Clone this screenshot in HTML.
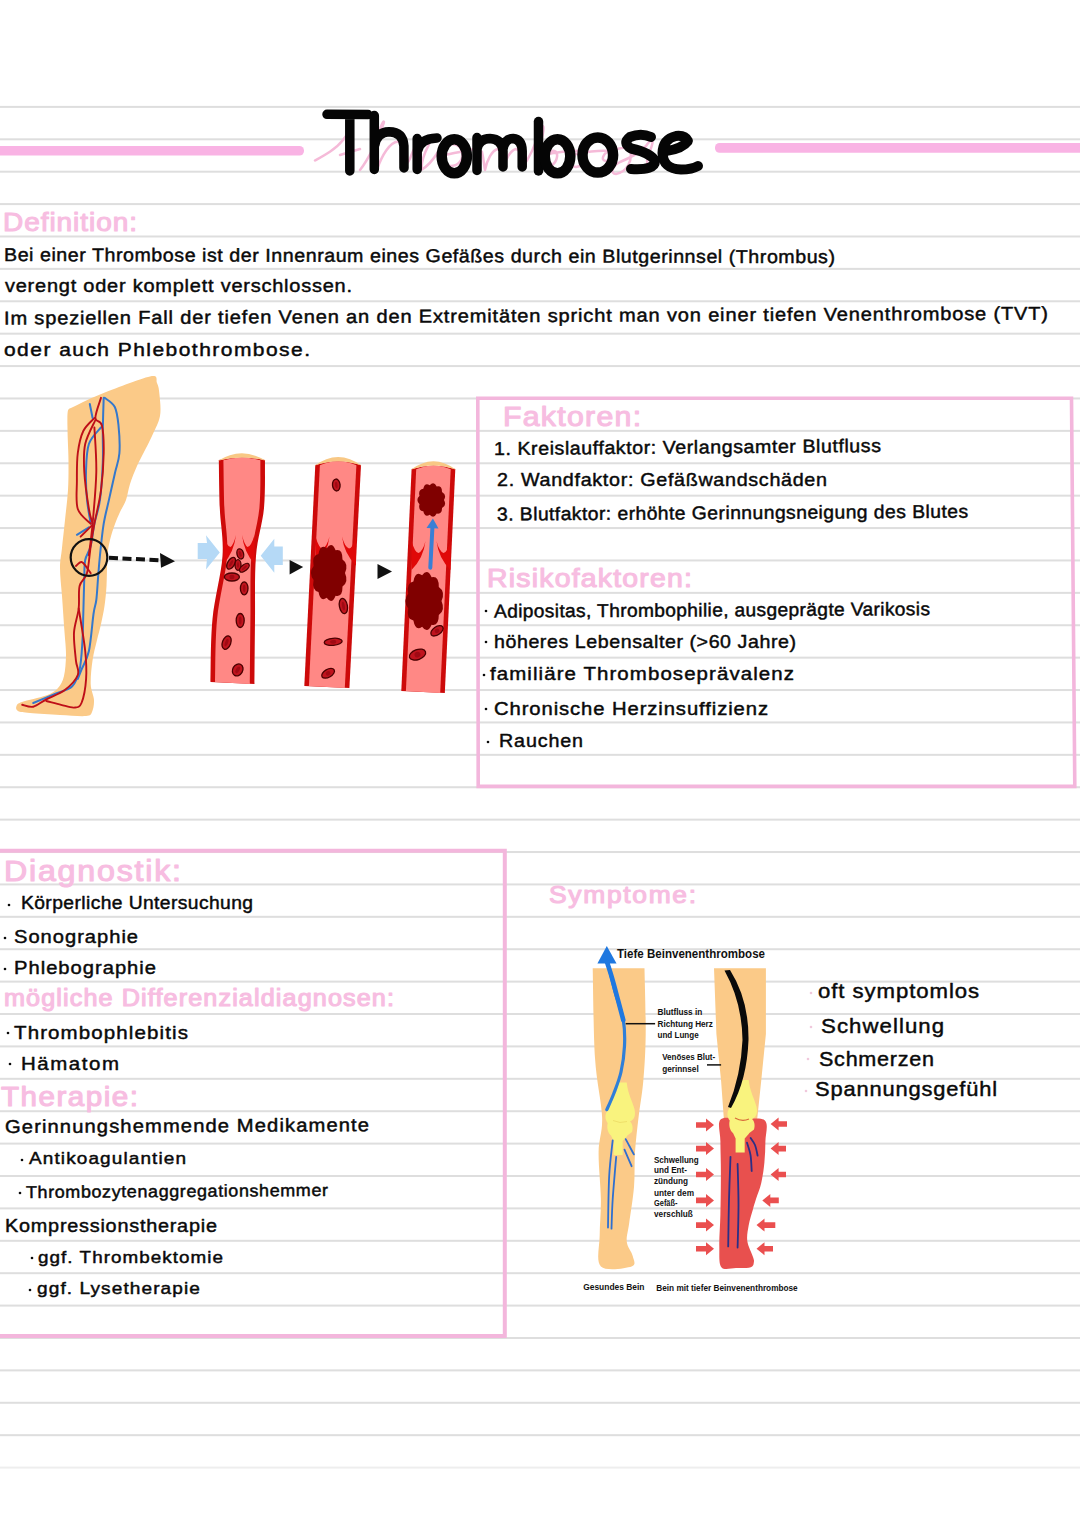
<!DOCTYPE html><html><head><meta charset="utf-8"><title>Thrombose</title>
<style>html,body{margin:0;padding:0;background:#fff;}body{width:1080px;height:1527px;overflow:hidden;}svg{display:block;}text{font-family:"Liberation Sans",sans-serif;}</style></head><body>
<svg width="1080" height="1527" viewBox="0 0 1080 1527">
<rect x="0" y="0" width="1080" height="1527" fill="#ffffff"/>
<rect x="0" y="105.90" width="1080" height="2" fill="#dedede"/>
<rect x="0" y="138.30" width="1080" height="2" fill="#dedede"/>
<rect x="0" y="170.69" width="1080" height="2" fill="#dedede"/>
<rect x="0" y="203.09" width="1080" height="2" fill="#dedede"/>
<rect x="0" y="235.49" width="1080" height="2" fill="#dedede"/>
<rect x="0" y="267.88" width="1080" height="2" fill="#dedede"/>
<rect x="0" y="300.28" width="1080" height="2" fill="#dedede"/>
<rect x="0" y="332.68" width="1080" height="2" fill="#dedede"/>
<rect x="0" y="365.08" width="1080" height="2" fill="#dedede"/>
<rect x="0" y="397.47" width="1080" height="2" fill="#dedede"/>
<rect x="0" y="429.87" width="1080" height="2" fill="#dedede"/>
<rect x="0" y="462.27" width="1080" height="2" fill="#dedede"/>
<rect x="0" y="494.66" width="1080" height="2" fill="#dedede"/>
<rect x="0" y="527.06" width="1080" height="2" fill="#dedede"/>
<rect x="0" y="559.46" width="1080" height="2" fill="#dedede"/>
<rect x="0" y="591.86" width="1080" height="2" fill="#dedede"/>
<rect x="0" y="624.25" width="1080" height="2" fill="#dedede"/>
<rect x="0" y="656.65" width="1080" height="2" fill="#dedede"/>
<rect x="0" y="689.05" width="1080" height="2" fill="#dedede"/>
<rect x="0" y="721.44" width="1080" height="2" fill="#dedede"/>
<rect x="0" y="753.84" width="1080" height="2" fill="#dedede"/>
<rect x="0" y="786.24" width="1080" height="2" fill="#dedede"/>
<rect x="0" y="818.63" width="1080" height="2" fill="#dedede"/>
<rect x="0" y="851.03" width="1080" height="2" fill="#dedede"/>
<rect x="0" y="883.43" width="1080" height="2" fill="#dedede"/>
<rect x="0" y="915.82" width="1080" height="2" fill="#dedede"/>
<rect x="0" y="948.22" width="1080" height="2" fill="#dedede"/>
<rect x="0" y="980.62" width="1080" height="2" fill="#dedede"/>
<rect x="0" y="1013.02" width="1080" height="2" fill="#dedede"/>
<rect x="0" y="1045.41" width="1080" height="2" fill="#dedede"/>
<rect x="0" y="1077.81" width="1080" height="2" fill="#dedede"/>
<rect x="0" y="1110.21" width="1080" height="2" fill="#dedede"/>
<rect x="0" y="1142.60" width="1080" height="2" fill="#dedede"/>
<rect x="0" y="1175.00" width="1080" height="2" fill="#dedede"/>
<rect x="0" y="1207.40" width="1080" height="2" fill="#dedede"/>
<rect x="0" y="1239.80" width="1080" height="2" fill="#dedede"/>
<rect x="0" y="1272.19" width="1080" height="2" fill="#dedede"/>
<rect x="0" y="1304.59" width="1080" height="2" fill="#dedede"/>
<rect x="0" y="1336.99" width="1080" height="2" fill="#dedede"/>
<rect x="0" y="1369.38" width="1080" height="2" fill="#dedede"/>
<rect x="0" y="1401.78" width="1080" height="2" fill="#dedede"/>
<rect x="0" y="1434.18" width="1080" height="2" fill="#dedede"/>
<rect x="0" y="1466.57" width="1080" height="2" fill="#eeeeee"/>
<rect x="-5" y="146" width="309" height="9.5" rx="4.5" fill="#f9b3e4"/>
<rect x="715" y="143" width="380" height="9.8" rx="4.5" fill="#f9b3e4"/>
<path d="M315,160.5 C325,155 336,149 343,140 C348,133 352,128 351,137 C350,148 347,160 349,168 M340,155 L360,149 M360,170 C368,160 378,140 383,125 C386,118 381,122 379,135 C377,150 376,162 377,169.5 C382,155 390,142 398,141.5 C403,142 402,158 402.4,168 C406,165 410,160 411,156 C414,148 417,143 419,143 C424,142 428,144 429,144.4 C425,152 421,162 421.7,169.6 C428,166 433,160 438,152 C441,146 448,143 455,144.4 C464,147 465,160 456,165 C447,168 440,163 441,156 C448,154 460,152 470,150 C476,148 480,150 482,152 C484,160 484,166 485,170 C487,160 492,150 498,149 C504,150 503,162 503.5,168 C506,158 511,150 516,149 C522,150 521,162 522,168 C528,160 535,146 540,130 C545,121 544,130 541,142 C539,155 538,165 541,168 C548,170 556,164 557,157 C558,150 552,149 548,154 C560,152 570,150 578,151 C586,154 585,166 576,167 C568,166 569,156 576,154 C586,152 600,150 610,151 C615,152 612,160 606,161 C600,161 603,152 612,150 C622,148 628,146 630,150 C633,160 627,172 616,174 C610,174 612,166 620,162 C630,158 640,152 646,146 C650,140 654,138 652,145 C650,153 645,160 648,165 C652,168 658,165 662,158" fill="none" stroke="#f5bad8" stroke-width="2.5" stroke-linecap="round" stroke-linejoin="round"/>
<g fill="none" stroke="#050505" stroke-width="9.5" stroke-linecap="round" stroke-linejoin="round"><path d="M327,114.3 L368,114.6 M349.8,114.5 L349.8,171"/><path d="M374.3,115.5 L374.3,169.5 M374.8,145 Q377,132 389,131.8 Q403,132 403.9,146 L404,168"/><path d="M417.2,138.5 L417.2,169.5 M417.5,151 Q420,138.5 437,138"/><ellipse cx="454.3" cy="156.3" rx="12.6" ry="17" stroke-width="10.5"/><path d="M477,137.5 L477,170.5 M477,149 Q479,138.5 490,138.5 Q502,139 503,151 L503,167 M503,149 Q505,138.5 513,138.5 Q522,139.5 522.2,151 L522.2,167"/><path d="M538.5,121.5 L538.5,171"/><ellipse cx="557.5" cy="156.3" rx="12.8" ry="17" stroke-width="10.5"/><ellipse cx="597.8" cy="155" rx="15.3" ry="17.6" stroke-width="10.5"/><path d="M651,137 Q641,132.5 630,137 Q622,143 631,148.5 Q651,153 655,161 Q655,170.5 631,169" stroke-width="10"/><path d="M666,151 Q682,149 688,141 Q685,135 676,136 Q663,139 662.5,153 Q663,169 681,169.5 Q692,169.5 698,166" stroke-width="10"/></g>
<text x="3.0" y="231.0" font-size="26" font-weight="normal" fill="#f7bde1" stroke="#f7bde1" stroke-width="1.1" stroke-linejoin="round" textLength="124.5" lengthAdjust="spacing" transform="matrix(1.0766,0,0,1,-0.23,0)">Definition:</text>
<text x="4.0" y="261.0" font-size="18.5" font-weight="normal" fill="#0a0a0a" stroke="#0a0a0a" stroke-width="0.45" stroke-linejoin="round" textLength="784.2" lengthAdjust="spacing" transform="rotate(0.15 4 261) matrix(1.0597,0,0,1,-0.24,0)">Bei einer Thrombose ist der Innenraum eines Gefäßes durch ein Blutgerinnsel (Thrombus)</text>
<text x="5.0" y="292.0" font-size="18.5" font-weight="normal" fill="#0a0a0a" stroke="#0a0a0a" stroke-width="0.45" stroke-linejoin="round" textLength="321.1" lengthAdjust="spacing" transform="matrix(1.0806,0,0,1,-0.40,0)">verengt oder komplett verschlossen.</text>
<text x="4.0" y="324.5" font-size="18.5" font-weight="normal" fill="#0a0a0a" stroke="#0a0a0a" stroke-width="0.45" stroke-linejoin="round" textLength="960.3" lengthAdjust="spacing" transform="rotate(-0.27 4 324.5) matrix(1.0872,0,0,1,-0.35,0)">Im speziellen Fall der tiefen Venen an den Extremitäten spricht man von einer tiefen Venenthrombose (TVT)</text>
<text x="4.0" y="356.5" font-size="18.5" font-weight="normal" fill="#0a0a0a" stroke="#0a0a0a" stroke-width="0.45" stroke-linejoin="round" textLength="269.6" lengthAdjust="spacing" transform="matrix(1.1350,0,0,1,-0.54,0)">oder auch Phlebothrombose.</text>
<path d="M67.5,414.0 C67.7,411.6 67.8,410.6 68.5,409.5 C69.2,408.4 66.8,410.0 72.0,407.5 C77.2,405.0 87.0,399.7 100.0,394.5 C113.0,389.3 140.5,378.4 150.0,376.5 C159.5,374.6 155.4,379.9 157.0,383.0 C158.6,386.1 159.0,389.5 159.5,395.0 C160.0,400.5 161.2,409.2 160.0,416.0 C158.8,422.8 154.7,430.0 152.0,436.0 C149.3,442.0 146.5,447.0 144.0,452.0 C141.5,457.0 139.3,460.7 137.0,466.0 C134.7,471.3 131.8,478.3 130.0,484.0 C128.2,489.7 127.7,495.3 126.0,500.0 C124.3,504.7 121.8,508.0 120.0,512.0 C118.2,516.0 116.7,519.3 115.0,524.0 C113.3,528.7 111.2,534.7 110.0,540.0 C108.8,545.3 108.1,548.3 107.5,556.0 C106.9,563.7 107.0,577.7 106.5,586.0 C106.0,594.3 105.4,599.7 104.5,606.0 C103.6,612.3 102.2,618.3 101.0,624.0 C99.8,629.7 98.4,634.0 97.0,640.0 C95.6,646.0 93.6,652.7 92.6,660.0 C91.5,667.3 90.5,677.3 90.7,684.0 C90.9,690.7 93.8,695.3 94.0,700.0 C94.2,704.7 93.3,709.3 92.0,712.0 C90.7,714.7 91.3,715.5 86.0,716.0 C80.7,716.5 69.3,715.5 60.0,715.0 C50.7,714.5 37.0,713.7 30.0,713.0 C23.0,712.3 20.2,712.2 18.0,711.0 C15.8,709.8 15.8,707.5 16.5,706.0 C17.2,704.5 17.1,703.7 22.0,702.0 C26.9,700.3 40.0,697.9 46.0,695.6 C52.0,693.3 55.0,691.3 58.0,688.0 C61.0,684.7 62.7,681.5 64.0,676.0 C65.3,670.5 65.9,662.3 66.0,655.0 C66.1,647.7 65.2,641.8 64.5,632.0 C63.8,622.2 62.8,606.7 62.0,596.0 C61.2,585.3 60.0,576.0 60.0,568.0 C60.0,560.0 61.2,556.0 62.0,548.0 C62.8,540.0 64.0,529.7 65.0,520.0 C66.0,510.3 67.4,499.7 68.0,490.0 C68.6,480.3 68.5,470.3 68.5,462.0 C68.5,453.7 68.0,446.3 67.8,440.0 C67.6,433.7 67.5,428.3 67.4,424.0 C67.4,419.7 67.3,416.4 67.5,414.0 Z" fill="#fbca88"/>
<path d="M104.6,397.8 C106.3,399.3 112.5,402.4 114.8,407.0 C117.1,411.6 117.7,417.8 118.5,425.5 C119.3,433.2 120.0,445.3 119.4,453.3 C118.8,461.3 116.5,466.0 114.8,473.7 C113.1,481.4 110.8,491.3 109.0,499.6 C107.2,507.9 105.2,514.5 103.7,523.7 C102.2,532.9 100.9,546.1 100.0,555.0 C99.1,563.9 98.7,569.5 98.1,577.0 C97.5,584.5 97.1,593.8 96.3,600.0 C95.5,606.2 94.7,605.5 93.5,614.0 C92.3,622.5 90.9,641.7 88.9,651.0 C86.9,660.3 83.3,665.0 81.5,669.6 C79.7,674.2 78.4,677.4 77.8,678.9" fill="none" stroke="#3478cc" stroke-width="2.0" stroke-linecap="round" stroke-linejoin="round"/>
<path d="M103.7,397.8 C103.5,403.2 103.0,419.2 102.8,430.0 C102.6,440.8 103.3,451.0 102.8,462.6 C102.3,474.2 101.4,489.4 100.0,499.6 C98.6,509.8 96.0,516.0 94.4,523.7 C92.9,531.4 92.2,540.0 90.7,546.0 C89.2,552.0 86.3,554.8 85.2,560.0 C84.1,565.2 84.6,568.0 84.3,577.0 C84.0,586.0 83.6,603.2 83.3,614.0 C83.0,624.8 83.0,632.6 82.4,641.9 C81.8,651.2 81.3,662.2 79.6,669.6 C77.9,677.0 76.2,682.3 72.2,686.3 C68.2,690.3 62.1,690.9 55.6,693.7 C49.1,696.5 37.0,701.5 33.3,703.0" fill="none" stroke="#3478cc" stroke-width="2.0" stroke-linecap="round" stroke-linejoin="round"/>
<path d="M101.0,427.4 C99.0,430.2 91.4,436.6 88.9,444.0 C86.4,451.4 86.3,462.6 86.0,471.9 C85.7,481.2 86.2,491.0 87.0,499.6 C87.8,508.2 90.1,519.7 90.7,523.7" fill="none" stroke="#3478cc" stroke-width="2.0" stroke-linecap="round" stroke-linejoin="round"/>
<path d="M89.8,404.0 C90.3,406.3 92.1,415.7 92.6,418.0" fill="none" stroke="#3478cc" stroke-width="2.0" stroke-linecap="round" stroke-linejoin="round"/>
<path d="M76.9,534.8 C78.9,533.6 86.9,528.6 88.9,527.4" fill="none" stroke="#3478cc" stroke-width="2.0" stroke-linecap="round" stroke-linejoin="round"/>
<path d="M94.4,418.0 C92.6,420.2 86.1,425.2 83.3,431.0 C80.5,436.8 78.9,444.7 77.8,453.0 C76.7,461.3 76.9,471.7 76.9,481.0 C76.9,490.3 75.5,501.9 77.8,509.0 C80.1,516.1 88.5,521.2 90.7,523.7" fill="none" stroke="#be0f18" stroke-width="1.9" stroke-linecap="round" stroke-linejoin="round"/>
<path d="M101.0,397.8 C100.1,401.2 95.2,413.4 95.4,418.0 C95.6,422.6 100.5,419.6 101.9,425.5 C103.3,431.4 103.9,442.5 103.7,453.3 C103.5,464.1 102.5,478.7 101.0,490.4 C99.5,502.1 96.1,514.4 94.4,523.7 C92.7,533.0 91.9,537.8 90.7,546.0 C89.5,554.2 88.8,566.3 87.0,573.0 C85.2,579.7 81.0,580.1 79.6,586.0 C78.2,591.9 79.6,600.7 78.7,608.5 C77.8,616.3 74.5,624.0 74.0,632.6 C73.5,641.2 75.3,653.3 75.9,660.4 C76.5,667.5 79.7,670.1 77.8,675.0 C75.9,679.9 70.0,686.0 64.8,690.0 C59.5,694.0 51.5,696.5 46.3,699.3 C41.0,702.1 37.3,705.8 33.3,706.7 C29.3,707.6 24.0,705.1 22.2,704.8" fill="none" stroke="#be0f18" stroke-width="1.9" stroke-linecap="round" stroke-linejoin="round"/>
<path d="M95.4,420.0 C93.7,424.0 87.1,435.4 85.2,444.0 C83.3,452.6 83.7,461.1 84.3,471.9 C84.9,482.7 87.5,500.4 88.9,509.0 C90.3,517.6 92.0,521.2 92.6,523.7" fill="none" stroke="#be0f18" stroke-width="1.9" stroke-linecap="round" stroke-linejoin="round"/>
<path d="M94.4,427.4 C94.7,434.8 96.6,455.8 96.3,471.9 C96.0,487.9 93.8,509.8 92.6,523.7 C91.4,537.6 89.5,550.0 88.9,555.2" fill="none" stroke="#be0f18" stroke-width="1.9" stroke-linecap="round" stroke-linejoin="round"/>
<path d="M80.6,536.7 C82.4,534.9 89.8,527.5 91.7,525.6" fill="none" stroke="#be0f18" stroke-width="1.9" stroke-linecap="round" stroke-linejoin="round"/>
<path d="M78.7,608.5 C79.8,615.6 84.0,639.3 85.2,651.0 C86.4,662.7 86.7,670.2 86.1,678.9 C85.5,687.6 83.5,698.2 81.5,703.0 C79.5,707.8 77.4,707.3 74.0,707.6 C70.6,707.9 65.7,705.9 61.1,704.8 C56.5,703.7 48.8,701.6 46.3,701.0" fill="none" stroke="#be0f18" stroke-width="1.9" stroke-linecap="round" stroke-linejoin="round"/>
<path d="M75.9,566.0 C76.8,565.3 79.7,561.7 81.5,562.0 C83.3,562.3 85.5,565.9 87.0,567.8 C88.5,569.7 90.1,572.4 90.7,573.3" fill="none" stroke="#be0f18" stroke-width="1.9" stroke-linecap="round" stroke-linejoin="round"/>
<circle cx="89" cy="557.5" r="18.3" fill="none" stroke="#111" stroke-width="2.2"/>
<path d="M109,557.8 L160,560.3" stroke="#111" stroke-width="4" stroke-dasharray="9,4.5"/>
<path d="M160,553 L175,561.3 L161,567.8 Z" fill="#111"/>
<path d="M197.7,543 L207,543 L206,535.3 L219.8,552.4 L206,569.4 L207,559 L197.7,559 Z" fill="#b5d9f6"/>
<path d="M282.8,546.4 L274.3,546.4 L274.3,538.8 L260.7,555.8 L274.3,572.8 L274.3,565 L282.8,565 Z" fill="#b5d9f6"/>
<path d="M218.8,460.0 C219.0,468.0 219.2,492.0 219.8,508.0 C220.4,524.0 223.7,537.5 222.5,556.0 C221.3,574.5 214.5,598.0 212.5,619.0 C210.5,640.0 210.8,671.5 210.5,682.0 L254.5,684.0 C254.6,673.3 254.8,641.3 255.0,620.0 C255.2,598.7 254.5,574.7 256.0,556.0 C257.5,537.3 262.5,524.0 264.0,508.0 C265.5,492.0 264.8,468.0 265.0,460.0 Q241.9,455.0 218.8,460.0 Z" fill="#cd0a0a"/>
<path d="M223.4,460.3 C223.6,468.2 223.8,492.1 224.4,508.0 C225.0,524.0 228.3,537.5 227.1,556.0 C225.9,574.5 219.1,598.0 217.1,619.0 C215.1,640.0 215.4,671.5 215.1,682.0 L249.9,684.0 C250.0,673.3 250.2,641.3 250.4,620.0 C250.7,598.7 249.9,574.7 251.4,556.0 C252.9,537.3 257.9,524.0 259.4,508.0 C260.9,492.1 260.2,468.2 260.4,460.3 Q241.9,454.7 223.4,460.3 Z" fill="#ff8885"/>
<path d="M218.0,460.8 Q241.9,445.8 265.8,460.8 Q241.9,454.2 218.0,460.8 Z" fill="#f8c885"/>
<path d="M223.5,535.0 Q227.0,547.0 230.5,547.0 Q233.5,545.0 236.0,535.0 Q234.0,552.0 223.5,564.0 Z" fill="#e00808"/>
<path d="M254.5,535.0 Q251.0,547.0 247.5,547.0 Q244.5,545.0 242.0,535.0 Q244.0,552.0 254.5,564.0 Z" fill="#e00808"/>
<ellipse cx="240.3" cy="553.9" rx="3.3" ry="5.2" transform="rotate(-15 240.3 553.9)" fill="#c0141e" stroke="#4a0000" stroke-width="1.3"/>
<ellipse cx="240.3" cy="553.9" rx="1.2" ry="2.9" transform="rotate(-15 240.3 553.9)" fill="#a00a14"/>
<ellipse cx="231.1" cy="563.3" rx="3.5" ry="6.5" transform="rotate(30 231.1 563.3)" fill="#c0141e" stroke="#4a0000" stroke-width="1.3"/>
<ellipse cx="231.1" cy="563.3" rx="1.2" ry="3.6" transform="rotate(30 231.1 563.3)" fill="#a00a14"/>
<ellipse cx="238.0" cy="565.0" rx="3" ry="5.3" transform="rotate(0 238.0 565.0)" fill="#c0141e" stroke="#4a0000" stroke-width="1.3"/>
<ellipse cx="238.0" cy="565.0" rx="1.0" ry="2.9" transform="rotate(0 238.0 565.0)" fill="#a00a14"/>
<ellipse cx="244.4" cy="567.8" rx="3" ry="5.8" transform="rotate(50 244.4 567.8)" fill="#c0141e" stroke="#4a0000" stroke-width="1.3"/>
<ellipse cx="244.4" cy="567.8" rx="1.0" ry="3.2" transform="rotate(50 244.4 567.8)" fill="#a00a14"/>
<ellipse cx="231.9" cy="577.0" rx="7.5" ry="4" transform="rotate(0 231.9 577.0)" fill="#c0141e" stroke="#4a0000" stroke-width="1.3"/>
<ellipse cx="231.9" cy="577.0" rx="2.6" ry="2.2" transform="rotate(0 231.9 577.0)" fill="#a00a14"/>
<ellipse cx="244.2" cy="588.3" rx="3.8" ry="6.5" transform="rotate(0 244.2 588.3)" fill="#c0141e" stroke="#4a0000" stroke-width="1.3"/>
<ellipse cx="244.2" cy="588.3" rx="1.3" ry="3.6" transform="rotate(0 244.2 588.3)" fill="#a00a14"/>
<ellipse cx="240.2" cy="620.5" rx="4" ry="7" transform="rotate(0 240.2 620.5)" fill="#c0141e" stroke="#4a0000" stroke-width="1.3"/>
<ellipse cx="240.2" cy="620.5" rx="1.4" ry="3.9" transform="rotate(0 240.2 620.5)" fill="#a00a14"/>
<ellipse cx="226.6" cy="642.6" rx="4.2" ry="7" transform="rotate(20 226.6 642.6)" fill="#c0141e" stroke="#4a0000" stroke-width="1.3"/>
<ellipse cx="226.6" cy="642.6" rx="1.5" ry="3.9" transform="rotate(20 226.6 642.6)" fill="#a00a14"/>
<ellipse cx="237.7" cy="669.9" rx="5" ry="6.3" transform="rotate(30 237.7 669.9)" fill="#c0141e" stroke="#4a0000" stroke-width="1.3"/>
<ellipse cx="237.7" cy="669.9" rx="1.8" ry="3.5" transform="rotate(30 237.7 669.9)" fill="#a00a14"/>
<path d="M289.6,560 L303.2,567 L289.6,574.5 Z" fill="#111"/>
<path d="M377.5,564 L392,571.5 L377.5,579 Z" fill="#111"/>
<path d="M315.3,465.0 L304.3,686.0 L349.4,688.0 L361.0,465.0 Q338.1,457.4 315.3,465.0 Z" fill="#cd0a0a"/>
<path d="M319.9,465.3 L308.9,686.0 L344.8,688.0 L356.4,465.3 Q338.1,457.1 319.9,465.3 Z" fill="#ff8885"/>
<path d="M314.5,465.8 Q338.1,448.2 361.8,465.8 Q338.1,456.6 314.5,465.8 Z" fill="#f8c885"/>
<path d="M315.5,536.5 Q319.0,548.5 322.5,548.5 Q327.0,546.5 329.5,536.5 Q327.5,553.5 315.5,565.5 Z" fill="#e00808"/>
<path d="M356.0,536.5 Q352.5,548.5 349.0,548.5 Q344.5,546.5 342.0,536.5 Q344.0,553.5 356.0,565.5 Z" fill="#e00808"/>
<path d="M345.0,573.0 Q348.9,582.1 342.5,586.5 Q342.6,597.5 335.6,595.7 Q331.9,605.1 326.7,597.7 Q320.4,602.5 318.5,591.9 Q311.6,590.5 313.6,580.0 Q308.3,573.0 313.6,566.0 Q311.6,555.5 318.5,554.1 Q320.4,543.5 326.7,548.3 Q331.9,540.9 335.6,550.3 Q342.6,548.5 342.5,559.5 Q348.9,563.9 345.0,573.0 Z" fill="#800000"/>
<ellipse cx="336.3" cy="485.0" rx="3.8" ry="6" transform="rotate(-5 336.3 485.0)" fill="#c0141e" stroke="#4a0000" stroke-width="1.3"/>
<ellipse cx="336.3" cy="485.0" rx="1.3" ry="3.3" transform="rotate(-5 336.3 485.0)" fill="#a00a14"/>
<ellipse cx="343.4" cy="606.0" rx="4" ry="7.8" transform="rotate(-10 343.4 606.0)" fill="#c0141e" stroke="#4a0000" stroke-width="1.3"/>
<ellipse cx="343.4" cy="606.0" rx="1.4" ry="4.3" transform="rotate(-10 343.4 606.0)" fill="#a00a14"/>
<ellipse cx="333.2" cy="641.8" rx="9" ry="3.5" transform="rotate(-5 333.2 641.8)" fill="#c0141e" stroke="#4a0000" stroke-width="1.3"/>
<ellipse cx="333.2" cy="641.8" rx="3.1" ry="1.9" transform="rotate(-5 333.2 641.8)" fill="#a00a14"/>
<ellipse cx="328.1" cy="673.3" rx="7" ry="4" transform="rotate(-30 328.1 673.3)" fill="#c0141e" stroke="#4a0000" stroke-width="1.3"/>
<ellipse cx="328.1" cy="673.3" rx="2.4" ry="2.2" transform="rotate(-30 328.1 673.3)" fill="#a00a14"/>
<path d="M411.6,469.0 L401.3,691.0 L444.8,693.0 L455.3,469.0 Q433.5,462.0 411.6,469.0 Z" fill="#cd0a0a"/>
<path d="M416.2,469.3 L405.9,691.0 L440.2,693.0 L450.7,469.3 Q433.5,461.7 416.2,469.3 Z" fill="#ff8885"/>
<path d="M410.8,469.8 Q433.5,452.8 456.1,469.8 Q433.5,461.2 410.8,469.8 Z" fill="#f8c885"/>
<path d="M411.5,541.0 Q415.0,553.0 418.5,553.0 Q423.0,551.0 425.5,541.0 Q423.5,558.0 411.5,570.0 Z" fill="#e00808"/>
<path d="M450.5,541.0 Q447.0,553.0 443.5,553.0 Q439.0,551.0 436.5,541.0 Q438.5,558.0 450.5,570.0 Z" fill="#e00808"/>
<path d="M444.0,500.0 Q447.0,505.5 442.0,508.1 Q442.1,514.7 436.7,513.6 Q433.8,519.2 429.7,514.8 Q424.8,517.7 423.3,511.3 Q417.9,510.5 419.5,504.2 Q415.3,500.0 419.5,495.8 Q417.9,489.5 423.3,488.7 Q424.8,482.3 429.7,485.2 Q433.8,480.8 436.7,486.4 Q442.1,485.3 442.0,491.9 Q447.0,494.5 444.0,500.0 Z" fill="#800000"/>
<path d="M441.5,601.0 Q445.6,610.5 438.8,615.1 Q438.9,626.5 431.6,624.7 Q427.6,634.3 422.1,626.7 Q415.4,631.6 413.4,620.6 Q406.0,619.2 408.2,608.3 Q402.5,601.0 408.2,593.7 Q406.0,582.8 413.4,581.4 Q415.4,570.4 422.1,575.3 Q427.6,567.7 431.6,577.3 Q438.9,575.5 438.8,586.9 Q445.6,591.5 441.5,601.0 Z" fill="#800000"/>
<path d="M430.3,567.7 L432.5,526" stroke="#3a7fd5" stroke-width="4" stroke-linecap="round"/>
<path d="M426.5,528 L432.9,518.5 L438.5,528.5 Z" fill="#3a7fd5"/>
<ellipse cx="437.0" cy="630.8" rx="7" ry="4" transform="rotate(-35 437.0 630.8)" fill="#c0141e" stroke="#4a0000" stroke-width="1.3"/>
<ellipse cx="437.0" cy="630.8" rx="2.4" ry="2.2" transform="rotate(-35 437.0 630.8)" fill="#a00a14"/>
<ellipse cx="417.5" cy="654.6" rx="8.5" ry="5" transform="rotate(-20 417.5 654.6)" fill="#c0141e" stroke="#4a0000" stroke-width="1.3"/>
<ellipse cx="417.5" cy="654.6" rx="3.0" ry="2.8" transform="rotate(-20 417.5 654.6)" fill="#a00a14"/>
<path d="M477.8,398.2 L1071.5,398.2 L1074.8,786.4 L478.2,786.4 Z" fill="none" stroke="#f3b6dc" stroke-width="3.6"/>
<text x="503.0" y="426.0" font-size="28" font-weight="normal" fill="#f7bde1" stroke="#f7bde1" stroke-width="1.1" stroke-linejoin="round" textLength="127.8" lengthAdjust="spacing" transform="matrix(1.0802,0,0,1,-40.35,0)">Faktoren:</text>
<text x="494.0" y="455.0" font-size="18.5" font-weight="normal" fill="#0a0a0a" stroke="#0a0a0a" stroke-width="0.45" stroke-linejoin="round" textLength="364.4" lengthAdjust="spacing" transform="rotate(-0.45 494 455) matrix(1.0621,0,0,1,-30.67,0)">1. Kreislauffaktor: Verlangsamter Blutfluss</text>
<text x="497.0" y="486.0" font-size="18.5" font-weight="normal" fill="#0a0a0a" stroke="#0a0a0a" stroke-width="0.45" stroke-linejoin="round" textLength="309.5" lengthAdjust="spacing" transform="matrix(1.0662,0,0,1,-32.88,0)">2. Wandfaktor: Gefäßwandschäden</text>
<text x="497.0" y="520.5" font-size="18.5" font-weight="normal" fill="#0a0a0a" stroke="#0a0a0a" stroke-width="0.45" stroke-linejoin="round" textLength="450.0" lengthAdjust="spacing" transform="rotate(-0.35 497 520.5) matrix(1.0468,0,0,1,-23.24,0)">3. Blutfaktor: erhöhte Gerinnungsneigung des Blutes</text>
<text x="487.0" y="587.5" font-size="26" font-weight="normal" fill="#f7bde1" stroke="#f7bde1" stroke-width="1.1" stroke-linejoin="round" textLength="187.7" lengthAdjust="spacing" transform="matrix(1.0919,0,0,1,-44.75,0)">Risikofaktoren:</text>
<circle cx="486" cy="611" r="1.3" fill="#0a0a0a"/>
<text x="494.0" y="617.5" font-size="18.5" font-weight="normal" fill="#0a0a0a" stroke="#0a0a0a" stroke-width="0.45" stroke-linejoin="round" textLength="419.9" lengthAdjust="spacing" transform="rotate(-0.3 494 617.5) matrix(1.0383,0,0,1,-18.90,0)">Adipositas, Thrombophilie, ausgeprägte Varikosis</text>
<circle cx="486" cy="642" r="1.3" fill="#0a0a0a"/>
<text x="494.0" y="648.0" font-size="18.5" font-weight="normal" fill="#0a0a0a" stroke="#0a0a0a" stroke-width="0.45" stroke-linejoin="round" textLength="285.0" lengthAdjust="spacing" transform="matrix(1.0597,0,0,1,-29.51,0)">höheres Lebensalter (&gt;60 Jahre)</text>
<circle cx="484" cy="675" r="1.3" fill="#0a0a0a"/>
<text x="490.0" y="680.0" font-size="18.5" font-weight="normal" fill="#0a0a0a" stroke="#0a0a0a" stroke-width="0.45" stroke-linejoin="round" textLength="274.8" lengthAdjust="spacing" transform="matrix(1.1061,0,0,1,-51.99,0)">familiäre Thromboseprävalenz</text>
<circle cx="486" cy="709" r="1.3" fill="#0a0a0a"/>
<text x="494.0" y="715.0" font-size="18.5" font-weight="normal" fill="#0a0a0a" stroke="#0a0a0a" stroke-width="0.45" stroke-linejoin="round" textLength="250.5" lengthAdjust="spacing" transform="matrix(1.0940,0,0,1,-46.43,0)">Chronische Herzinsuffizienz</text>
<circle cx="488" cy="742" r="1.3" fill="#0a0a0a"/>
<text x="499.0" y="747.5" font-size="18.5" font-weight="normal" fill="#0a0a0a" stroke="#0a0a0a" stroke-width="0.45" stroke-linejoin="round" textLength="78.9" lengthAdjust="spacing" transform="matrix(1.0651,0,0,1,-32.47,0)">Rauchen</text>
<path d="M-5,850.8 L504.8,850.8 L504.8,1335.9 L-5,1335.9" fill="none" stroke="#f3b6dc" stroke-width="4"/>
<text x="4.0" y="881.0" font-size="29" font-weight="normal" fill="#f7bde1" stroke="#f7bde1" stroke-width="1.1" stroke-linejoin="round" textLength="159.3" lengthAdjust="spacing" transform="matrix(1.1108,0,0,1,-0.44,0)">Diagnostik:</text>
<circle cx="9" cy="905" r="1.3" fill="#0a0a0a"/>
<text x="21.0" y="909.5" font-size="18.5" font-weight="normal" fill="#0a0a0a" stroke="#0a0a0a" stroke-width="0.45" stroke-linejoin="round" textLength="222.8" lengthAdjust="spacing" transform="matrix(1.0415,0,0,1,-0.87,0)">Körperliche Untersuchung</text>
<circle cx="5" cy="938" r="1.3" fill="#0a0a0a"/>
<text x="14.0" y="943.0" font-size="18.5" font-weight="normal" fill="#0a0a0a" stroke="#0a0a0a" stroke-width="0.45" stroke-linejoin="round" textLength="114.1" lengthAdjust="spacing" transform="matrix(1.0872,0,0,1,-1.22,0)">Sonographie</text>
<circle cx="5" cy="969" r="1.3" fill="#0a0a0a"/>
<text x="14.0" y="974.5" font-size="18.5" font-weight="normal" fill="#0a0a0a" stroke="#0a0a0a" stroke-width="0.45" stroke-linejoin="round" textLength="130.2" lengthAdjust="spacing" transform="matrix(1.0909,0,0,1,-1.27,0)">Phlebographie</text>
<text x="4.0" y="1006.0" font-size="23" font-weight="normal" fill="#f7bde1" stroke="#f7bde1" stroke-width="1.1" stroke-linejoin="round" textLength="356.3" lengthAdjust="spacing" transform="matrix(1.0945,0,0,1,-0.38,0)">mögliche Differenzialdiagnosen:</text>
<circle cx="8" cy="1033" r="1.3" fill="#0a0a0a"/>
<text x="14.0" y="1039.5" font-size="18.5" font-weight="normal" fill="#0a0a0a" stroke="#0a0a0a" stroke-width="0.45" stroke-linejoin="round" textLength="157.1" lengthAdjust="spacing" transform="matrix(1.1074,0,0,1,-1.50,0)">Thrombophlebitis</text>
<circle cx="10" cy="1064" r="1.3" fill="#0a0a0a"/>
<text x="21.0" y="1070.5" font-size="18.5" font-weight="normal" fill="#0a0a0a" stroke="#0a0a0a" stroke-width="0.45" stroke-linejoin="round" textLength="88.6" lengthAdjust="spacing" transform="matrix(1.1055,0,0,1,-2.22,0)">Hämatom</text>
<text x="1.0" y="1106.0" font-size="27" font-weight="normal" fill="#f7bde1" stroke="#f7bde1" stroke-width="1.1" stroke-linejoin="round" textLength="125.0" lengthAdjust="spacing" transform="matrix(1.0960,0,0,1,-0.10,0)">Therapie:</text>
<text x="5.0" y="1133.0" font-size="18.5" font-weight="normal" fill="#0a0a0a" stroke="#0a0a0a" stroke-width="0.45" stroke-linejoin="round" textLength="332.9" lengthAdjust="spacing" transform="rotate(-0.3 5 1133) matrix(1.0936,0,0,1,-0.47,0)">Gerinnungshemmende Medikamente</text>
<circle cx="22" cy="1160" r="1.3" fill="#0a0a0a"/>
<text x="29.0" y="1164.5" font-size="17" font-weight="normal" fill="#0a0a0a" stroke="#0a0a0a" stroke-width="0.45" stroke-linejoin="round" textLength="140.5" lengthAdjust="spacing" transform="matrix(1.1176,0,0,1,-3.41,0)">Antikoagulantien</text>
<circle cx="20" cy="1193" r="1.3" fill="#0a0a0a"/>
<text x="26.0" y="1198.0" font-size="17" font-weight="normal" fill="#0a0a0a" stroke="#0a0a0a" stroke-width="0.45" stroke-linejoin="round" textLength="285.2" lengthAdjust="spacing" transform="rotate(-0.4 26 1198) matrix(1.0590,0,0,1,-1.53,0)">Thrombozytenaggregationshemmer</text>
<text x="5.0" y="1232.0" font-size="18.5" font-weight="normal" fill="#0a0a0a" stroke="#0a0a0a" stroke-width="0.45" stroke-linejoin="round" textLength="197.5" lengthAdjust="spacing" transform="matrix(1.0732,0,0,1,-0.37,0)">Kompressionstherapie</text>
<circle cx="32" cy="1258" r="1.3" fill="#0a0a0a"/>
<text x="38.0" y="1263.0" font-size="17" font-weight="normal" fill="#0a0a0a" stroke="#0a0a0a" stroke-width="0.45" stroke-linejoin="round" textLength="167.1" lengthAdjust="spacing" transform="matrix(1.1074,0,0,1,-4.08,0)">ggf. Thrombektomie</text>
<circle cx="30" cy="1290" r="1.3" fill="#0a0a0a"/>
<text x="37.0" y="1294.5" font-size="17" font-weight="normal" fill="#0a0a0a" stroke="#0a0a0a" stroke-width="0.45" stroke-linejoin="round" textLength="145.4" lengthAdjust="spacing" transform="matrix(1.1207,0,0,1,-4.47,0)">ggf. Lysetherapie</text>
<text x="549.0" y="903.0" font-size="24" font-weight="normal" fill="#f7bde1" stroke="#f7bde1" stroke-width="1.1" stroke-linejoin="round" textLength="133.6" lengthAdjust="spacing" transform="matrix(1.1006,0,0,1,-55.20,0)">Symptome:</text>
<circle cx="811" cy="993" r="1.3" fill="#f0c8dc"/>
<text x="818.0" y="998.5" font-size="20.5" font-weight="normal" fill="#0a0a0a" stroke="#0a0a0a" stroke-width="0.45" stroke-linejoin="round" textLength="149.0" lengthAdjust="spacing" transform="matrix(1.0808,0,0,1,-66.06,0)">oft symptomlos</text>
<circle cx="811" cy="1027" r="1.3" fill="#f0c8dc"/>
<text x="821.0" y="1033.5" font-size="20.5" font-weight="normal" fill="#0a0a0a" stroke="#0a0a0a" stroke-width="0.45" stroke-linejoin="round" textLength="113.6" lengthAdjust="spacing" transform="matrix(1.0832,0,0,1,-68.27,0)">Schwellung</text>
<circle cx="808" cy="1059" r="1.3" fill="#f0c8dc"/>
<text x="819.0" y="1066.5" font-size="20.5" font-weight="normal" fill="#0a0a0a" stroke="#0a0a0a" stroke-width="0.45" stroke-linejoin="round" textLength="109.2" lengthAdjust="spacing" transform="matrix(1.0532,0,0,1,-43.57,0)">Schmerzen</text>
<circle cx="806" cy="1091" r="1.3" fill="#f0c8dc"/>
<text x="815.0" y="1096.5" font-size="20.5" font-weight="normal" fill="#0a0a0a" stroke="#0a0a0a" stroke-width="0.45" stroke-linejoin="round" textLength="170.4" lengthAdjust="spacing" transform="matrix(1.0680,0,0,1,-55.39,0)">Spannungsgefühl</text>
<path d="M592.7,968.3 L644.5,968.3 C644.7,979.2 645.9,1015.2 645.7,1034.0 C645.5,1052.8 644.5,1067.2 643.3,1081.0 C642.1,1094.8 640.0,1105.2 638.6,1117.0 C637.2,1128.8 635.8,1140.3 635.0,1152.0 C634.2,1163.7 635.0,1175.2 634.0,1187.0 C633.0,1198.8 630.4,1213.8 629.2,1223.0 C628.0,1232.2 626.2,1236.5 626.8,1242.0 C627.4,1247.5 631.9,1251.9 632.7,1256.0 C633.5,1260.1 636.9,1264.7 631.6,1266.4 C626.3,1268.1 606.2,1271.6 600.9,1266.4 C595.6,1261.2 599.7,1246.2 599.7,1235.0 C599.7,1223.8 601.1,1212.8 600.9,1199.0 C600.7,1185.2 598.4,1165.7 598.6,1152.0 C598.8,1138.3 602.7,1132.7 602.1,1117.0 C601.5,1101.3 596.6,1082.8 595.0,1058.0 C593.4,1033.2 593.1,983.2 592.7,968.3 Z" fill="#fbca88"/>
<path d="M618.8,1082.4 L626.7,1082.4 C628,1095 633,1102 634.5,1109.3 C636,1116 634,1120 630,1121.5 C633,1124 633,1129 632,1132 C630,1134 627,1135 626.7,1136.5 L622.7,1141 L622.7,1155 L613.6,1155 L613.6,1141 L611,1135.5 C608,1133 606.5,1128 607.7,1123 C605,1120 605,1115 606.4,1112.6 C610,1103 617,1095 618.8,1082.4 Z" fill="#f9f37e"/>
<path d="M613,1120.5 Q620,1124 627,1121.5" fill="none" stroke="#efe06a" stroke-width="1"/>
<path d="M608.0,963.6 C609.2,968.3 612.5,982.4 615.0,991.8 C617.5,1001.2 621.7,1011.1 623.3,1020.1 C624.9,1029.1 624.9,1037.3 624.5,1046.0 C624.1,1054.7 622.8,1064.1 621.0,1072.0 C619.2,1079.9 616.3,1086.9 613.9,1093.2 C611.5,1099.5 608.0,1107.0 606.8,1109.7" fill="none" stroke="#2f7fd8" stroke-width="3.2" stroke-linecap="round"/>
<path d="M606.8,945.9 L616.5,963.6 L597.4,963.6 Z" fill="#1f78e0"/>
<path d="M607.0,962.0 C607.8,964.7 610.2,971.7 612.0,978.0 C613.8,984.3 616.1,993.0 618.0,1000.0 C619.9,1007.0 622.4,1016.8 623.3,1020.1" fill="none" stroke="#1f78e0" stroke-width="4.6" stroke-linecap="round"/>
<path d="M612.7,1140.3 C612.1,1146.2 610.0,1161.2 609.2,1175.7 C608.4,1190.2 608.2,1218.9 608.0,1227.5" fill="none" stroke="#2f6fd0" stroke-width="1.8" stroke-linecap="round"/>
<path d="M616.2,1156.8 C615.6,1163.9 613.5,1187.2 612.7,1199.2 C611.9,1211.2 611.7,1223.8 611.5,1228.7" fill="none" stroke="#2f6fd0" stroke-width="1.8" stroke-linecap="round"/>
<path d="M625.7,1139.1 C627.1,1141.6 632.5,1151.9 633.9,1154.4" fill="none" stroke="#2f6fd0" stroke-width="1.8" stroke-linecap="round"/>
<path d="M624.5,1149.7 C625.7,1152.5 630.4,1163.5 631.6,1166.2" fill="none" stroke="#2f6fd0" stroke-width="1.8" stroke-linecap="round"/>
<path d="M714,968.3 L765.9,968.3 L765.9,1034 L761.2,1081 L757,1121 L724,1121 L721.1,1081 L716.4,1034 Z" fill="#fbca88"/>
<path d="M720.6,1119.4 C724.2,1115.7 734.6,1119.0 742.0,1119.2 C749.4,1119.4 761.0,1116.8 764.9,1120.5 C768.8,1124.2 765.5,1134.4 765.4,1141.4 C765.3,1148.4 765.1,1155.4 764.4,1162.4 C763.7,1169.4 762.6,1177.2 761.2,1183.3 C759.8,1189.4 757.4,1194.6 756.0,1199.0 C754.6,1203.4 754.1,1205.1 752.9,1209.5 C751.7,1213.9 749.6,1220.0 748.7,1225.2 C747.8,1230.5 746.6,1235.8 747.3,1241.0 C748.0,1246.2 751.8,1253.2 752.9,1256.7 C754.0,1260.2 754.2,1260.2 753.9,1262.0 C753.5,1263.8 753.8,1266.2 750.8,1267.2 C747.8,1268.2 740.9,1268.0 736.0,1268.0 C731.1,1268.0 724.2,1270.8 721.4,1267.2 C718.6,1263.6 719.5,1254.9 719.3,1246.2 C719.1,1237.5 720.1,1227.0 720.4,1214.8 C720.7,1202.6 720.9,1185.1 720.9,1172.9 C720.9,1160.7 720.4,1150.3 720.4,1141.4 C720.4,1132.5 717.0,1123.1 720.6,1119.4 Z" fill="#e8504e"/>
<path d="M618.8,1082.4 L626.7,1082.4 C628,1095 633,1102 634.5,1109.3 C636,1116 634,1120 630,1121.5 C633,1124 633,1129 632,1132 C630,1134 627,1135 626.7,1136.5 L622.7,1141 L622.7,1155 L613.6,1155 L613.6,1141 L611,1135.5 C608,1133 606.5,1128 607.7,1123 C605,1120 605,1115 606.4,1112.6 C610,1103 617,1095 618.8,1082.4 Z" transform="translate(122,-2.5)" fill="#f9f37e"/>
<path d="M735,1118 Q742,1122 749,1119" fill="none" stroke="#d86a3a" stroke-width="1.2"/>
<path d="M724.5,970.6 L730,970 Q749,1000 748.5,1040 Q747,1080 731,1108 L728,1107 Q741,1075 742.5,1040 Q742,1002 724.5,970.6 Z" fill="#0a0a0a"/>
<path d="M730.5,1156.8 C730.2,1164.0 729.4,1185.1 729.0,1200.0 C728.6,1214.9 728.3,1238.7 728.2,1246.4" fill="none" stroke="#2b2f86" stroke-width="1.8" stroke-linecap="round"/>
<path d="M737.6,1163.9 C737.8,1170.8 738.5,1191.1 738.5,1205.0 C738.5,1218.9 737.8,1240.4 737.6,1247.5" fill="none" stroke="#2b2f86" stroke-width="1.8" stroke-linecap="round"/>
<path d="M747.0,1142.7 C747.6,1144.8 749.7,1150.3 750.5,1155.0 C751.3,1159.7 751.5,1168.3 751.7,1171.0" fill="none" stroke="#2b2f86" stroke-width="1.8" stroke-linecap="round"/>
<path d="M750.6,1138.0 C751.3,1139.2 753.8,1142.1 755.0,1145.0 C756.2,1147.9 757.2,1153.8 757.6,1155.6" fill="none" stroke="#2b2f86" stroke-width="1.8" stroke-linecap="round"/>
<path d="M696,1122.2 L706,1122.2 L706,1118.5 L714,1125 L706,1131.5 L706,1127.8 L696,1127.8 Z" fill="#ea4f4f"/>
<path d="M696,1145.8 L706,1145.8 L706,1142.1 L714,1148.6 L706,1155.1 L706,1151.3999999999999 L696,1151.3999999999999 Z" fill="#ea4f4f"/>
<path d="M696,1171.7 L706,1171.7 L706,1168.0 L714,1174.5 L706,1181.0 L706,1177.3 L696,1177.3 Z" fill="#ea4f4f"/>
<path d="M696,1197.6000000000001 L706,1197.6000000000001 L706,1193.9 L714,1200.4 L706,1206.9 L706,1203.2 L696,1203.2 Z" fill="#ea4f4f"/>
<path d="M696,1222.3 L706,1222.3 L706,1218.6 L714,1225.1 L706,1231.6 L706,1227.8999999999999 L696,1227.8999999999999 Z" fill="#ea4f4f"/>
<path d="M696,1245.9 L706,1245.9 L706,1242.2 L714,1248.7 L706,1255.2 L706,1251.5 L696,1251.5 Z" fill="#ea4f4f"/>
<path d="M787,1121.2 L778.6,1121.2 L778.6,1117.5 L770.6,1124 L778.6,1130.5 L778.6,1126.8 L787,1126.8 Z" fill="#ea4f4f"/>
<path d="M786,1145.8 L778.6,1145.8 L778.6,1142.1 L770.6,1148.6 L778.6,1155.1 L778.6,1151.3999999999999 L786,1151.3999999999999 Z" fill="#ea4f4f"/>
<path d="M786,1171.7 L778.6,1171.7 L778.6,1168.0 L770.6,1174.5 L778.6,1181.0 L778.6,1177.3 L786,1177.3 Z" fill="#ea4f4f"/>
<path d="M778.8,1197.6000000000001 L770.3,1197.6000000000001 L770.3,1193.9 L762.3,1200.4 L770.3,1206.9 L770.3,1203.2 L778.8,1203.2 Z" fill="#ea4f4f"/>
<path d="M775.3,1222.3 L764.5,1222.3 L764.5,1218.6 L756.5,1225.1 L764.5,1231.6 L764.5,1227.8999999999999 L775.3,1227.8999999999999 Z" fill="#ea4f4f"/>
<path d="M773,1245.9 L764.5,1245.9 L764.5,1242.2 L756.5,1248.7 L764.5,1255.2 L764.5,1251.5 L773,1251.5 Z" fill="#ea4f4f"/>
<path d="M625.7,1023.7 L655.1,1023.7" stroke="#111" stroke-width="1.5"/>
<path d="M707,1064.9 L721.1,1064.9" stroke="#111" stroke-width="1.5"/>
<text x="617.0" y="957.7" font-size="12" font-weight="bold" fill="#111" textLength="148.0" lengthAdjust="spacingAndGlyphs">Tiefe Beinvenenthrombose</text>
<text x="657.5" y="1015.4" font-size="9" font-weight="bold" fill="#111" textLength="44.8" lengthAdjust="spacingAndGlyphs">Blutfluss in</text>
<text x="657.5" y="1027.2" font-size="9" font-weight="bold" fill="#111" textLength="55.4" lengthAdjust="spacingAndGlyphs">Richtung Herz</text>
<text x="657.5" y="1037.8" font-size="9" font-weight="bold" fill="#111" textLength="41.2" lengthAdjust="spacingAndGlyphs">und Lunge</text>
<text x="662.2" y="1060.2" font-size="9" font-weight="bold" fill="#111" textLength="53.0" lengthAdjust="spacingAndGlyphs">Venöses Blut-</text>
<text x="662.2" y="1072.0" font-size="9" font-weight="bold" fill="#111" textLength="36.5" lengthAdjust="spacingAndGlyphs">gerinnsel</text>
<text x="654.0" y="1162.7" font-size="9" font-weight="bold" fill="#111" textLength="44.7" lengthAdjust="spacingAndGlyphs">Schwellung</text>
<text x="654.0" y="1173.3" font-size="9" font-weight="bold" fill="#111" textLength="33.0" lengthAdjust="spacingAndGlyphs">und Ent-</text>
<text x="654.0" y="1184.0" font-size="9" font-weight="bold" fill="#111" textLength="34.1" lengthAdjust="spacingAndGlyphs">zündung</text>
<text x="654.0" y="1195.7" font-size="9" font-weight="bold" fill="#111" textLength="40.0" lengthAdjust="spacingAndGlyphs">unter dem</text>
<text x="654.0" y="1206.3" font-size="9" font-weight="bold" fill="#111" textLength="23.5" lengthAdjust="spacingAndGlyphs">Gefäß-</text>
<text x="654.0" y="1217.0" font-size="9" font-weight="bold" fill="#111" textLength="38.8" lengthAdjust="spacingAndGlyphs">verschluß</text>
<text x="583.2" y="1290.0" font-size="9.5" font-weight="bold" fill="#111" textLength="61.3" lengthAdjust="spacingAndGlyphs">Gesundes Bein</text>
<text x="656.3" y="1291.0" font-size="9.5" font-weight="bold" fill="#111" textLength="141.4" lengthAdjust="spacingAndGlyphs">Bein mit tiefer Beinvenenthrombose</text>
</svg></body></html>
